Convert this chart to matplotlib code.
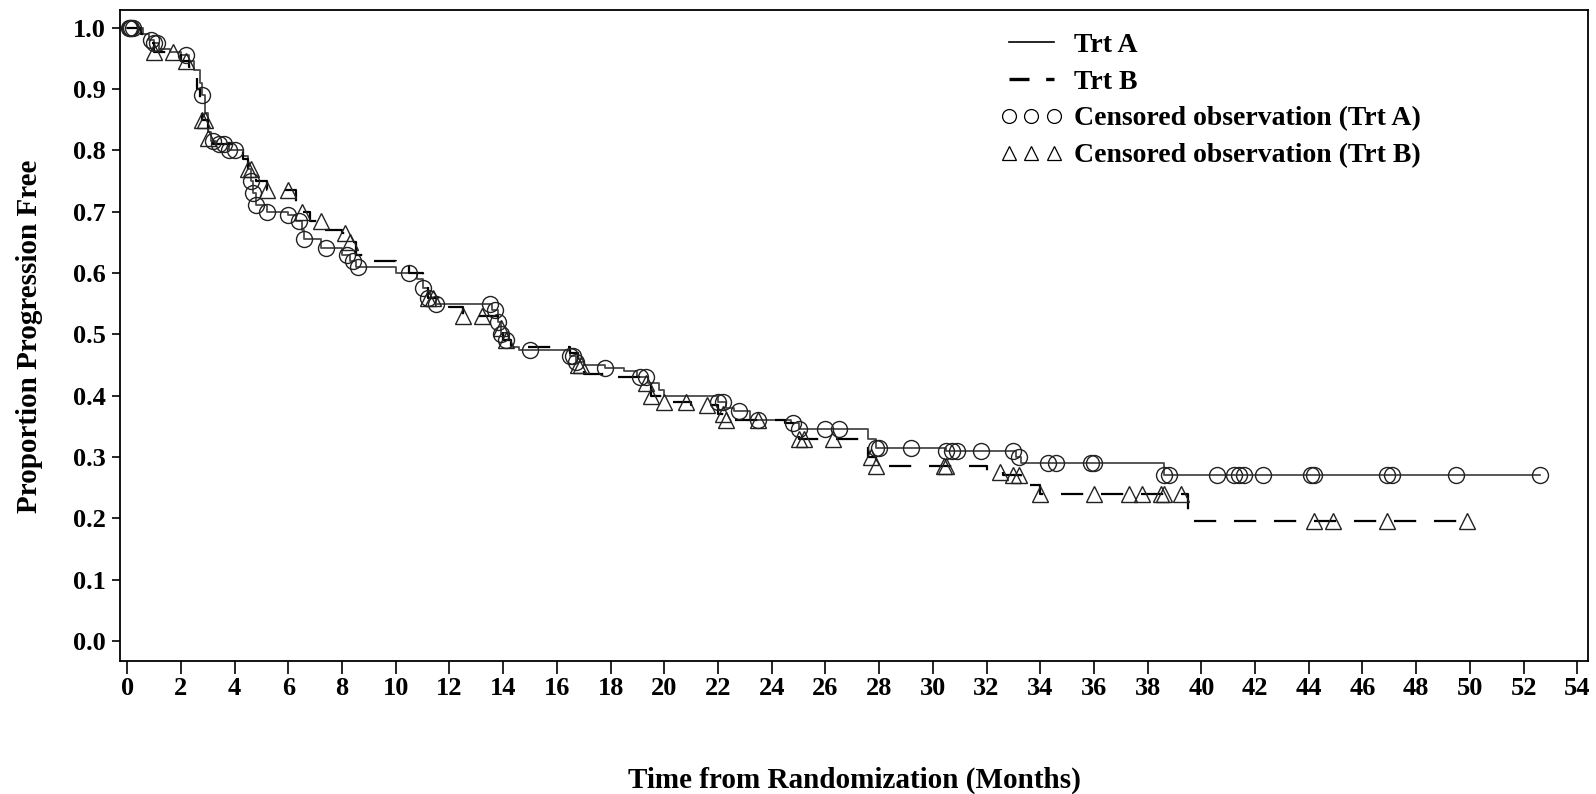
import numpy as np
import matplotlib.pyplot as plt
from matplotlib.lines import Line2D

plt.rcParams['font.family'] = ['Liberation Serif', 'DejaVu Serif']
plt.rcParams['font.weight'] = 'bold'

# Kaplan-Meier step curves (time in months, proportion progression free)
a_time = [0, 0.6, 0.8, 1.0, 1.2, 1.6, 2.0, 2.3, 2.5, 2.7, 2.8, 2.9, 3.0, 3.1, 3.3,
          3.8, 4.3, 4.5, 4.6, 4.7, 4.8, 5.2, 6.0, 6.3, 6.5, 6.6, 7.2, 8.0, 8.3, 8.5,
          10.0, 10.8, 11.0, 11.2, 11.5, 13.6, 13.8, 13.9, 14.0, 14.3, 14.6, 16.5,
          16.7, 17.0, 17.8, 18.5, 19.0, 19.4, 19.8, 20.0, 22.0, 22.3, 22.6, 23.2,
          24.7, 25.0, 27.6, 27.9, 30.5, 33.1, 33.3, 38.6, 52.6]
a_surv = [1.0, 0.99, 0.98, 0.975, 0.965, 0.96, 0.955, 0.945, 0.93, 0.91, 0.89, 0.86,
          0.83, 0.815, 0.81, 0.80, 0.79, 0.77, 0.75, 0.73, 0.71, 0.70, 0.695, 0.685,
          0.67, 0.655, 0.64, 0.63, 0.62, 0.61, 0.60, 0.59, 0.575, 0.56, 0.55, 0.54,
          0.52, 0.50, 0.49, 0.48, 0.475, 0.465, 0.455, 0.45, 0.445, 0.44, 0.43, 0.42,
          0.41, 0.40, 0.39, 0.38, 0.375, 0.36, 0.355, 0.345, 0.33, 0.315, 0.31, 0.30,
          0.29, 0.27, 0.27]

b_time = [0, 0.5, 0.8, 1.0, 1.8, 2.0, 2.3, 2.5, 2.6, 2.7, 2.8, 3.0, 3.2, 4.0, 4.3,
          4.5, 4.8, 5.2, 6.3, 6.5, 6.8, 7.3, 8.0, 8.3, 8.5, 8.8, 10.0, 10.5, 11.0,
          11.2, 11.6, 12.0, 12.5, 13.8, 14.0, 14.3, 16.5, 16.8, 17.0, 18.0, 19.2,
          19.5, 20.0, 21.0, 22.0, 22.3, 24.5, 25.0, 27.3, 27.6, 27.9, 32.0, 32.6,
          33.3, 34.0, 39.5, 50.0]
b_surv = [1.0, 0.99, 0.975, 0.96, 0.955, 0.945, 0.935, 0.92, 0.90, 0.88, 0.85, 0.82,
          0.81, 0.80, 0.785, 0.77, 0.75, 0.735, 0.715, 0.70, 0.685, 0.67, 0.665, 0.65,
          0.63, 0.62, 0.615, 0.60, 0.58, 0.56, 0.55, 0.545, 0.53, 0.51, 0.49, 0.48,
          0.47, 0.45, 0.435, 0.43, 0.42, 0.40, 0.39, 0.385, 0.37, 0.36, 0.355, 0.33,
          0.32, 0.30, 0.285, 0.275, 0.27, 0.255, 0.24, 0.195, 0.195]

# censoring times
a_cens = [0.05, 0.1, 0.15, 0.2, 0.9, 1.0, 1.1, 2.2, 2.8, 3.2, 3.4, 3.6, 3.8, 4.0,
          4.6, 4.7, 4.8, 5.2, 6.0, 6.4, 6.6, 7.4, 8.2, 8.4, 8.6, 10.5, 11.0, 11.2,
          11.5, 13.5, 13.7, 13.8, 13.9, 14.1, 15.0, 16.5, 16.6, 16.7, 17.8, 19.1,
          19.3, 22.0, 22.2, 22.8, 23.5, 24.8, 25.0, 26.0, 26.5, 27.9, 28.0, 29.2,
          30.5, 30.7, 30.9, 31.8, 33.0, 33.2, 34.3, 34.6, 35.9, 36.0, 38.6, 38.8,
          40.6, 41.2, 41.4, 41.6, 42.3, 44.1, 44.2, 46.9, 47.1, 49.5, 52.6]
b_cens = [1.0, 1.7, 2.2, 2.8, 2.9, 3.0, 4.5, 4.6, 5.2, 6.0, 6.5, 7.2, 8.1, 8.3,
          11.2, 11.4, 12.5, 13.2, 13.9, 14.1, 16.8, 16.9, 19.3, 19.5, 20.0, 20.8,
          21.6, 22.2, 22.3, 23.5, 25.0, 25.2, 26.3, 27.7, 27.9, 30.4, 30.5, 32.5,
          33.0, 33.2, 34.0, 36.0, 37.3, 37.8, 38.5, 38.6, 39.25, 44.2, 44.9, 46.9,
          49.9]

x_ticks = list(range(0, 55, 2))
y_ticks = [0.0, 0.1, 0.2, 0.3, 0.4, 0.5, 0.6, 0.7, 0.8, 0.9, 1.0]


def surv_at(times, survs, t):
    idx = np.searchsorted(times, t, side='right') - 1
    return np.array(survs)[idx]


fig = plt.figure(figsize=(15.96, 7.94), dpi=100)
ax = fig.add_axes([0.0752, 0.167, 0.9198, 0.820])

ax.step(a_time, a_surv, where='post', color='#4a4a4a', linewidth=1.3)
ax.step(b_time, b_surv, where='post', color='black', linewidth=1.6,
        dashes=(10, 8))

ax.plot(a_cens, surv_at(a_time, a_surv, a_cens), linestyle='none', marker='o',
        markersize=11.5, markerfacecolor='none', markeredgecolor='#222222',
        markeredgewidth=1.0)
ax.plot(b_cens, surv_at(b_time, b_surv, b_cens), linestyle='none', marker='^',
        markersize=12, markerfacecolor='none', markeredgecolor='#222222',
        markeredgewidth=1.0)

ax.set_xlim(-0.27, 54.4)
ax.set_ylim(-0.033, 1.028)
ax.set_xticks(x_ticks)
ax.set_yticks(y_ticks)
ax.set_yticklabels(['%.1f' % v for v in y_ticks])
ax.tick_params(axis='x', direction='out', length=9, width=1.2, labelsize=19, pad=2)
ax.tick_params(axis='y', direction='out', length=6, width=1.2, labelsize=19, pad=4)
for s in ax.spines.values():
    s.set_linewidth(1.3)

ax.set_xlabel('Time from Randomization (Months)', fontsize=21, fontweight='bold',
              labelpad=48)
ax.set_ylabel('Proportion Progression Free', fontsize=21, fontweight='bold',
              labelpad=22)

handles = [
    Line2D([], [], color='black', linewidth=1.2),
    Line2D([], [], color='black', linewidth=2.4, dashes=(6, 5)),
    Line2D([], [], linestyle='none', marker='o', markersize=10,
           markerfacecolor='none', markeredgecolor='black', markeredgewidth=0.9),
    Line2D([], [], linestyle='none', marker='^', markersize=10,
           markerfacecolor='none', markeredgecolor='black', markeredgewidth=0.9),
]
labels = ['Trt A', 'Trt B', 'Censored observation (Trt A)',
          'Censored observation (Trt B)']
ax.legend(handles, labels, loc='upper left', bbox_to_anchor=(0.600, 0.966),
          frameon=False, numpoints=3, handlelength=2.2, handletextpad=0.45,
          labelspacing=0.41, borderpad=0, borderaxespad=0,
          prop={'size': 20, 'weight': 'bold'})

fig.savefig('out.png', dpi=100)
